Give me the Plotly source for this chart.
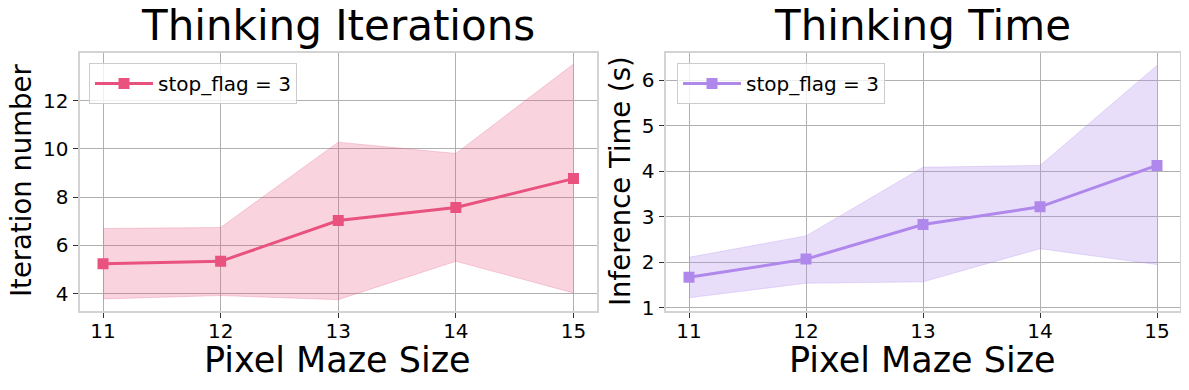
import plotly.graph_objects as go

# Data
maze_sizes = [11, 12, 13, 14, 15]

iter_mean = [5.24, 5.34, 7.03, 7.57, 8.77]
iter_upper = [6.70, 6.74, 10.28, 9.81, 13.52]
iter_lower = [3.78, 3.92, 3.75, 5.34, 4.03]

time_mean = [1.67, 2.07, 2.83, 3.22, 4.13]
time_upper = [2.11, 2.58, 4.09, 4.13, 6.33]
time_lower = [1.22, 1.54, 1.57, 2.30, 1.95]

legend_label = "stop_flag = 3"

# the page body has an 8px margin, so the figure is shrunk by that much
# and positions below are given in page pixels
OFF = 8
W, H = 1189 - OFF, 390 - OFF
FONT = "DejaVu Sans"

PINK = "#E9527F"
PINK_FILL = "rgba(233,82,127,0.25)"
PURPLE = "#B088EC"
PURPLE_FILL = "rgba(176,136,236,0.28)"


def px_x(p):
    return (p - OFF) / W


def px_y(p):
    return (H - (p - OFF)) / H


fig = go.Figure()


def add_panel(fig, xa, ya, legend_id, mean, upper, lower, color, fill):
    fig.add_trace(go.Scatter(
        x=maze_sizes, y=upper, mode="lines",
        line=dict(color=fill, width=1),
        xaxis=xa, yaxis=ya, showlegend=False, hoverinfo="skip"
    ))
    fig.add_trace(go.Scatter(
        x=maze_sizes, y=lower, mode="lines",
        line=dict(color=fill, width=1),
        fill="tonexty", fillcolor=fill,
        xaxis=xa, yaxis=ya, showlegend=False, hoverinfo="skip"
    ))
    fig.add_trace(go.Scatter(
        x=maze_sizes, y=mean, mode="lines+markers",
        name=legend_label,
        line=dict(color=color, width=3),
        marker=dict(symbol="square", size=11, color=color),
        xaxis=xa, yaxis=ya, legend=legend_id
    ))


add_panel(fig, "x", "y", "legend", iter_mean, iter_upper, iter_lower, PINK, PINK_FILL)
add_panel(fig, "x2", "y2", "legend2", time_mean, time_upper, time_lower, PURPLE, PURPLE_FILL)

y_bottom = px_y(310.5)
y_top = px_y(52.7)

axis_common = dict(
    showgrid=True, gridcolor="#b0b0b0", gridwidth=1,
    showline=True, linecolor="#d3d3d3", linewidth=2, mirror=True,
    ticks="outside", ticklen=5, tickcolor="#333333", tickwidth=1,
    tickfont=dict(family=FONT, size=20, color="#000000"),
    zeroline=False, automargin=False,
)
x_common = dict(axis_common, range=[10.8, 15.2], dtick=1, ticklabelstandoff=-4)

legend_common = dict(
    xanchor="left", yanchor="top",
    bgcolor="rgba(255,255,255,0.8)", bordercolor="#cccccc", borderwidth=1,
    font=dict(family=FONT, size=20), itemwidth=58,
)

fig.update_layout(
    width=W, height=H,
    paper_bgcolor="white", plot_bgcolor="white",
    margin=dict(l=0, r=0, t=0, b=0, autoexpand=False),
    font=dict(family=FONT, color="#000000"),
    xaxis=dict(domain=[px_x(79.5), px_x(597)], anchor="y", **x_common),
    yaxis=dict(domain=[y_bottom, y_top], range=[3.3, 13.99], dtick=2,
               anchor="x", **axis_common),
    xaxis2=dict(domain=[px_x(665.6), px_x(1180.4)], anchor="y2", **x_common),
    yaxis2=dict(domain=[y_bottom, y_top], range=[0.94, 6.61], dtick=1,
                anchor="x2", **axis_common),
    legend=dict(x=px_x(89), y=px_y(63), **legend_common),
    legend2=dict(x=px_x(677), y=px_y(63), **legend_common),
    showlegend=True,
)

# Titles and axis labels
texts = [
    ("Thinking Iterations", 338, 26, 42, 0),
    ("Thinking Time", 923, 26, 42, 0),
    ("Pixel Maze Size", 338, 360, 35, 0),
    ("Pixel Maze Size", 923, 360, 35, 0),
    ("Iteration number", 21, 181, 27.5, -90),
    ("Inference Time (s)", 620, 181, 27.5, -90),
]
for text, x, y, size, angle in texts:
    fig.add_annotation(
        text=text, xref="paper", yref="paper",
        x=px_x(x), y=px_y(y), xanchor="center", yanchor="middle",
        showarrow=False, textangle=angle,
        font=dict(family=FONT, size=size, color="#000000"),
    )

fig.write_html("out.html")
